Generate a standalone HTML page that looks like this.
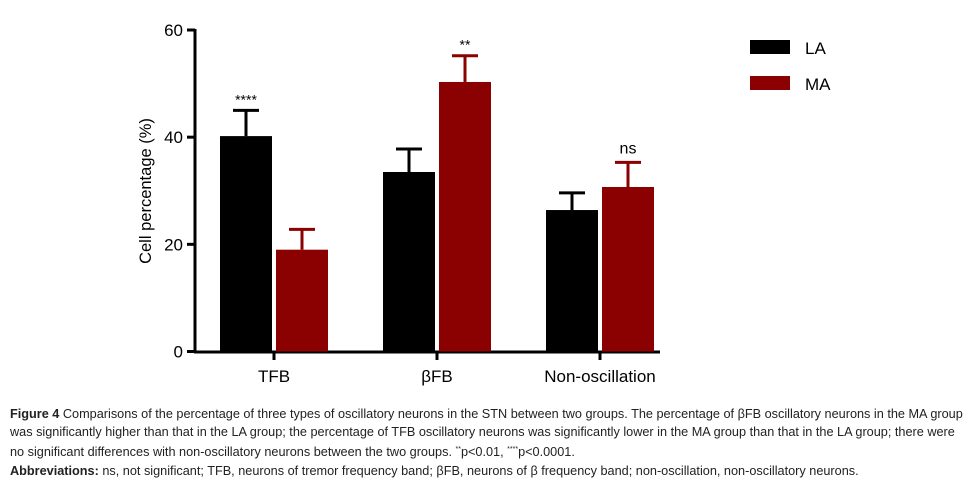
<!DOCTYPE html>
<html><head><meta charset="utf-8"><style>
body{margin:0;background:#fff;width:973px;height:481px;overflow:hidden;font-family:"Liberation Sans",Arial,sans-serif}
#cap{position:absolute;left:10px;top:405px;width:965px;font-size:12.7px;line-height:18.2px;color:#222;white-space:nowrap}
#cap b{font-weight:bold}
</style></head><body>
<svg id="chart" width="973" height="400" style="position:absolute;left:0;top:0" xmlns="http://www.w3.org/2000/svg"></svg>
<div id="cap"><b>Figure 4</b> Comparisons of the percentage of three types of oscillatory neurons in the STN between two groups. The percentage of βFB oscillatory neurons in the MA group<br>was significantly higher than that in the LA group; the percentage of TFB oscillatory neurons was significantly lower in the MA group than that in the LA group; there were<br>no significant differences with non-oscillatory neurons between the two groups. <sup style="font-size:7px">**</sup>p&lt;0.01, <sup style="font-size:7px">****</sup>p&lt;0.0001.<br><b>Abbreviations:</b> ns, not significant; TFB, neurons of tremor frequency band; βFB, neurons of β frequency band; non-oscillation, non-oscillatory neurons.</div>
<script>
const categories=["TFB","βFB","Non-oscillation"];
const laValues=[40.2,33.5,26.4];
const laErrors=[4.8,4.3,3.2];
const maValues=[19.0,50.3,30.7];
const maErrors=[3.8,4.9,4.6];
const sigLabels=["****","**","ns"];
const yTicks=[0,20,40,60];
const svg=document.getElementById('chart');
const NS="http://www.w3.org/2000/svg";
function y(v){return 351.5-v*(321.5/60);}
function groupX(i){return 274+i*163;}
function mk(t,a,p){const e=document.createElementNS(NS,t);for(const k in a)e.setAttribute(k,a[k]);(p||svg).appendChild(e);return e;}
const ax=mk('g',{});


mk('line',{x1:195,y1:y(60)-1,x2:195,y2:353,stroke:'#000','stroke-width':3},ax);
mk('line',{x1:194,y1:352,x2:660,y2:352,stroke:'#000','stroke-width':3},ax);
yTicks.forEach(t=>{
 mk('line',{x1:187,y1:y(t),x2:195,y2:y(t),stroke:'#000','stroke-width':3},ax);
 const tx=mk('text',{x:183,y:y(t)+6,'text-anchor':'end','font-size':17,fill:'#000'},ax);
 
 
 tx.textContent=t;
});
const yt=mk('text',{x:0,y:0,transform:'translate(151,191) rotate(-90)','text-anchor':'middle','font-size':16.5});


yt.textContent='Cell percentage (%)';
categories.forEach((c,i)=>{
 const cx=groupX(i);
 mk('line',{x1:cx,y1:352,x2:cx,y2:360,stroke:'#000','stroke-width':3},ax);
 const tl=mk('text',{x:cx,y:382,'text-anchor':'middle','font-size':17});
 
 
 tl.textContent=c;
 [[laValues,laErrors,'#000',cx-54],[maValues,maErrors,'#8b0000',cx+2]].forEach(([vals,errs,col,x0],k)=>{
  const v=vals[i],e=errs[i];
  mk('line',{x1:x0+26,y1:y(v+e),x2:x0+26,y2:y(v),stroke:col,'stroke-width':3});
  mk('line',{x1:x0+13,y1:y(v+e),x2:x0+39,y2:y(v+e),stroke:col,'stroke-width':3});
  const r=mk('rect',{x:x0,y:y(v),width:52,height:y(0)-y(v),fill:col});
  
  
 });
 const hi=Math.max(laValues[i]+laErrors[i],maValues[i]+maErrors[i]);
 const hx=(laValues[i]+laErrors[i]>=maValues[i]+maErrors[i])?cx-28:cx+28;
 const s=mk('text',{x:hx,y:y(hi)-(sigLabels[i]==='ns'?9:6),'text-anchor':'middle','font-size':sigLabels[i]==='ns'?16:14});
 
 
 s.textContent=sigLabels[i];
});
[['LA','#000',48],['MA','#8b0000',84]].forEach(([n,c,yy])=>{
 const g=mk('g',{});
 
 
 mk('rect',{x:750,y:yy-8,width:40,height:14,fill:c},g);
 const t=mk('text',{x:805,y:yy+6,'font-size':17},g);t.textContent=n;
});
</script>
</body></html>
